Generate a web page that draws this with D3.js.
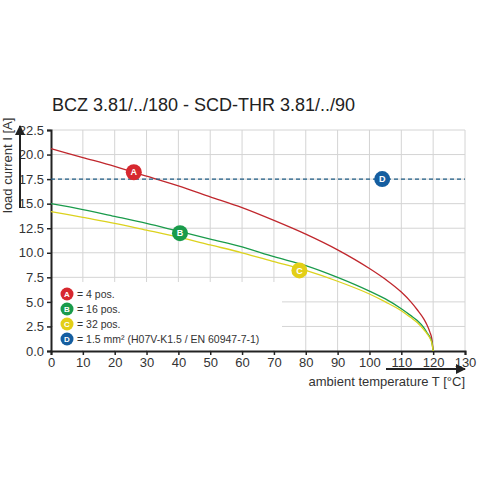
<!DOCTYPE html>
<html lang="en">
<head>
<meta charset="UTF-8">
<script src="https://d3js.org/d3.v7.min.js"></script>
<style>
  body { margin: 0; background: #fff; }
  text { font-family: Arial, "Liberation Sans", sans-serif; }
</style>
</head>
<body>
<div id="chart"></div>
<script>
// temperatures sampled along the curves
const temps = [0, 10, 20, 30, 40, 50, 60, 70, 80, 90, 100, 105, 110, 113, 115, 117, 118, 119, 119.6, 120];
const seriesA = [20.6, 19.7, 18.8, 17.8, 16.8, 15.7, 14.6, 13.3, 11.9, 10.3, 8.4, 7.3, 6.0, 5.0, 4.2, 3.3, 2.7, 1.9, 1.2, 0];
const seriesB = [15.0, 14.4, 13.7, 13.0, 12.2, 11.4, 10.6, 9.6, 8.7, 7.5, 6.1, 5.3, 4.3, 3.6, 3.1, 2.4, 1.9, 1.4, 0.9, 0];
const seriesC = [14.2, 13.6, 13.0, 12.3, 11.6, 10.8, 10.0, 9.1, 8.2, 7.1, 5.8, 5.0, 4.1, 3.4, 2.9, 2.2, 1.8, 1.3, 0.8, 0];
const limitD = 17.5;
const xTicks = d3.range(0, 131, 10);
const yTicks = d3.range(0, 22.6, 2.5);
const markers = [
  {k: "A", t: 26, v: 18.2, c: "#d7282f"},
  {k: "B", t: 40.5, v: 12.0, c: "#1a9b4b"},
  {k: "C", t: 78, v: 8.2, c: "#e3cf17"},
  {k: "D", t: 104, v: 17.5, c: "#155ea0"}
];
const legend = [
  {k: "A", label: "= 4 pos.", c: "#d7282f"},
  {k: "B", label: "= 16 pos.", c: "#1a9b4b"},
  {k: "C", label: "= 32 pos.", c: "#e3cf17"},
  {k: "D", label: "= 1.5 mm² (H07V-K1.5 / EN 60947-7-1)", c: "#155ea0"}
];

const svg = d3.select("#chart").append("svg").attr("width", 480).attr("height", 480);
const x = d3.scaleLinear().domain([0, 130]).range([51, 465]);
const y = d3.scaleLinear().domain([0, 22.5]).range([351, 130]);

svg.append("text").attr("x", 52).attr("y", 111).attr("font-size", 18).attr("fill", "#222")
   .text("BCZ 3.81/../180 - SCD-THR 3.81/../90");

// grid
svg.selectAll(".gx").data(xTicks.slice(1)).join("line")
   .attr("x1", d => x(d)).attr("x2", d => x(d)).attr("y1", y(22.5)).attr("y2", y(0))
   .attr("stroke", "#d4d4d4");
svg.selectAll(".gy").data(yTicks.slice(1)).join("line")
   .attr("x1", x(0)).attr("x2", x(130)).attr("y1", d => y(d)).attr("y2", d => y(d))
   .attr("stroke", "#d4d4d4");
// legend background hides grid
svg.append("rect").attr("x", 53).attr("y", 282).attr("width", 229).attr("height", 68).attr("fill", "#fff");

// axes
const xAxis = svg.append("g").attr("transform", `translate(0,${y(0)})`)
  .call(d3.axisBottom(x).tickValues(xTicks).tickSize(4).tickFormat(d3.format("d")));
const yAxis = svg.append("g").attr("transform", `translate(${x(0)},0)`)
  .call(d3.axisLeft(y).tickValues(yTicks).tickSize(4).tickFormat(d3.format(".1f")));
[xAxis, yAxis].forEach(g => {
  g.select(".domain").attr("stroke", "#222").attr("stroke-width", 2);
  g.selectAll(".tick line").attr("stroke", "#222").attr("stroke-width", 1.5);
  g.selectAll("text").attr("font-size", 13).attr("fill", "#333")
   .attr("font-family", "Arial, 'Liberation Sans', sans-serif");
});

// axis labels + arrows
svg.append("defs").append("marker").attr("id", "arr").attr("viewBox", "0 0 10 10")
   .attr("refX", 9).attr("refY", 5).attr("markerWidth", 5).attr("markerHeight", 5).attr("orient", "auto")
   .append("path").attr("d", "M0,0L10,5L0,10Z").attr("fill", "#222");
svg.append("line").attr("x1", 386).attr("x2", 465).attr("y1", 369).attr("y2", 369)
   .attr("stroke", "#222").attr("stroke-width", 2).attr("marker-end", "url(#arr)");
svg.append("text").attr("x", 465).attr("y", 386).attr("text-anchor", "end").attr("font-size", 13)
   .attr("fill", "#333").text("ambient temperature T [°C]");
svg.append("line").attr("x1", 20).attr("x2", 20).attr("y1", 208).attr("y2", 126)
   .attr("stroke", "#222").attr("stroke-width", 2).attr("marker-end", "url(#arr)");
svg.append("text").attr("transform", "translate(12,213) rotate(-90)").attr("font-size", 13)
   .attr("fill", "#333").text("load current I [A]");

// curves
const line = d3.line().x((d, i) => x(temps[i])).y(d => y(d)).curve(d3.curveMonotoneX);
[[seriesA, "#c0272d"], [seriesB, "#1a9b4b"], [seriesC, "#dcd21e"]].forEach(([s, c]) => {
  svg.append("path").datum(s).attr("d", line).attr("fill", "none").attr("stroke", c).attr("stroke-width", 1.3);
});
svg.append("line").attr("x1", x(0)).attr("x2", x(130)).attr("y1", y(limitD)).attr("y2", y(limitD))
   .attr("stroke", "#1f5d86").attr("stroke-width", 1.2).attr("stroke-dasharray", "4,3");

function badge(g, cx, cy, r, k, c, fs) {
  g.append("circle").attr("cx", cx).attr("cy", cy).attr("r", r).attr("fill", c);
  g.append("text").attr("x", cx).attr("y", cy + fs * 0.36).attr("text-anchor", "middle")
   .attr("font-size", fs).attr("font-weight", "bold").attr("fill", "#fff").text(k);
}
markers.forEach(m => badge(svg, x(m.t), y(m.v), 8, m.k, m.c, 9));

legend.forEach((l, i) => {
  const cy = 294 + i * 15;
  badge(svg, 67, cy, 6.5, l.k, l.c, 8);
  svg.append("text").attr("x", 77).attr("y", cy + 4).attr("font-size", 10.5).attr("fill", "#333").text(l.label);
});
</script>
</body>
</html>
